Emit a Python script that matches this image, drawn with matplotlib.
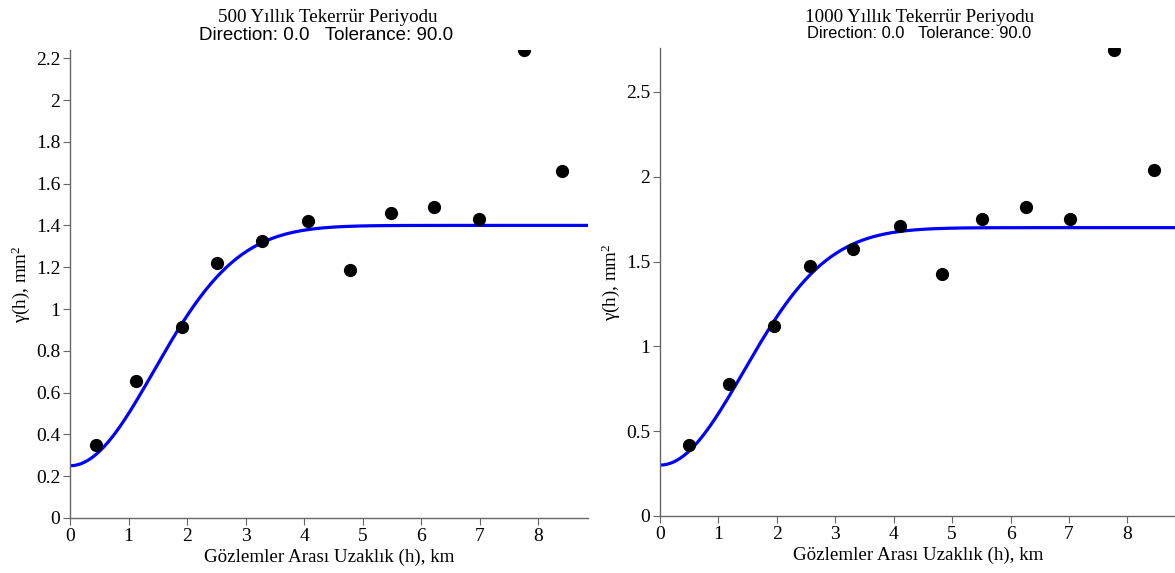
import matplotlib

matplotlib.use("Agg")
import matplotlib.pyplot as plt
from matplotlib.ticker import FuncFormatter, MultipleLocator
import numpy as np

# experimental variogram points (lag distance km, gamma mm^2)
lag_500 = [0.44, 1.13, 1.91, 2.51, 3.28, 4.07, 4.79, 5.49, 6.22, 6.99, 7.76, 8.41]
gamma_500 = [0.35, 0.655, 0.914, 1.22, 1.325, 1.42, 1.185, 1.46, 1.49, 1.43, 2.24, 1.66]

lag_1000 = [0.49, 1.18, 1.95, 2.56, 3.31, 4.10, 4.83, 5.51, 6.26, 7.01, 7.78, 8.45]
gamma_1000 = [0.418, 0.78, 1.12, 1.475, 1.575, 1.71, 1.425, 1.75, 1.82, 1.75, 2.75, 2.04]

# fitted gaussian model parameters (nugget, total sill, practical range)
model_500 = (0.25, 1.40, 3.5)
model_1000 = (0.30, 1.70, 3.5)

titles = ["500 Yıllık Tekerrür Periyodu", "1000 Yıllık Tekerrür Periyodu"]
subtitle = "Direction: 0.0   Tolerance: 90.0"
xlabel = "Gözlemler Arası Uzaklık (h), km"
ylabel = "γ(h), mm$^{2}$"

SERIF = ["Liberation Serif", "DejaVu Serif"]
SANS = ["Liberation Sans", "DejaVu Sans"]

plt.rcParams["mathtext.fontset"] = "custom"
plt.rcParams["mathtext.rm"] = "Liberation Serif"
plt.rcParams["mathtext.it"] = "Liberation Serif"
plt.rcParams["mathtext.default"] = "rm"


def gauss_model(h, nugget, sill, rng):
    return nugget + (sill - nugget) * (1 - np.exp(-3 * h ** 2 / rng ** 2))


def draw_panel(ax, lags, gammas, model, ylim, ystep, xmax=8.85):
    h = np.linspace(0, xmax, 300)
    ax.plot(h, gauss_model(h, *model), color="#0000ff", lw=2.3, zorder=2)
    ax.plot(lags, gammas, "o", color="black", ms=8.5, zorder=3)

    ax.set_xlim(0, xmax)
    ax.set_ylim(0, ylim)
    ax.xaxis.set_major_locator(MultipleLocator(1))
    ax.yaxis.set_major_locator(MultipleLocator(ystep))
    ax.yaxis.set_major_formatter(FuncFormatter(lambda v, p: f"{v:g}"))

    for side in ("top", "right"):
        ax.spines[side].set_visible(False)
    for side in ("left", "bottom"):
        ax.spines[side].set_color("#666666")
        ax.spines[side].set_linewidth(1.0)
    ax.tick_params(direction="out", length=5, color="#666666", labelsize=14,
                   pad=2)
    for lab in ax.get_xticklabels() + ax.get_yticklabels():
        lab.set_family(SERIF)

    ax.set_xlabel(xlabel, family=SERIF, fontsize=13.7, labelpad=3)
    ax.set_ylabel(ylabel, family=SERIF, fontsize=13.7, labelpad=3)


fig = plt.figure(figsize=(11.75, 5.73), dpi=100)
ax1 = fig.add_axes([0.0596, 0.096, 0.441, 0.817])
ax2 = fig.add_axes([0.5617, 0.0995, 0.440, 0.817])

draw_panel(ax1, lag_500, gamma_500, model_500, 2.24, 0.2)
draw_panel(ax2, lag_1000, gamma_1000, model_1000, 2.76, 0.5)

# two-line titles: serif heading, sans direction line (baselines in px)
H = 573.0
fig.text(327.5 / 1175, 1 - 22 / H, titles[0], ha="center", va="baseline",
         family=SERIF, fontsize=13.7)
fig.text(326 / 1175, 1 - 40 / H, subtitle, ha="center", va="baseline",
         family=SANS, fontsize=13.5)
fig.text(920 / 1175, 1 - 22 / H, titles[1], ha="center", va="baseline",
         family=SERIF, fontsize=13.7)
fig.text(919 / 1175, 1 - 38.5 / H, subtitle, ha="center", va="baseline",
         family=SANS, fontsize=11.9)

fig.savefig("out.png", dpi=100)
